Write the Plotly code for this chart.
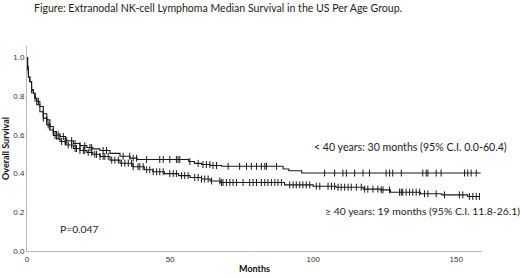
import numpy as np
import plotly.graph_objects as go

# ---- data ----
# Kaplan-Meier step points, age < 40
young_time = [0, 0.2, 0.5, 1.0, 1.6, 2.2, 2.8, 3.4, 4.5, 5.7, 6.9, 8.0, 9.2, 10.3, 11.5, 13.5,
              16.2, 18.5, 20.9, 23.0, 25.5, 29.0, 32.5, 36.0, 38.5, 56.5, 58.5, 61.0, 64.0, 68.0,
              89.5, 91.5, 96.0]
young_surv = [1.0, 0.94, 0.90, 0.876, 0.833, 0.816, 0.79, 0.773, 0.747, 0.71, 0.678, 0.644, 0.618,
              0.60, 0.592, 0.57, 0.556, 0.545, 0.535, 0.528, 0.52, 0.505, 0.49, 0.48, 0.473, 0.463,
              0.453, 0.447, 0.442, 0.438, 0.424, 0.415, 0.403]
young_censor = [0.45, 1.6, 2.8, 4.0, 5.7, 6.9, 8.0, 9.2, 10.9, 11.5, 12.7, 13.9, 15.6, 16.8, 18.5,
                20.2, 22.0, 22.6, 26.6, 27.8, 33.6, 35.9, 37.1, 38.3, 41.8, 46.4, 47.6, 49.9, 52.2,
                52.8, 53.4, 56.9, 59.8, 61.5, 62.7, 63.9, 65.0, 66.2, 70.3, 74.3, 76.7, 78.4, 80.2,
                81.9, 83.1, 83.7, 87.2, 104.0, 107.5, 110.4, 111.6, 114.5, 117.4, 119.7, 125.5,
                126.7, 127.8, 130.8, 138.3, 139.5, 140.1, 143.0, 144.7, 152.9, 154.0, 155.2, 157.0]
young_end = 158.5

# Kaplan-Meier step points, age >= 40
old_time = [0, 0.2, 0.5, 1.0, 1.6, 2.2, 2.8, 3.4, 4.5, 5.7, 6.9, 8.0, 9.2, 10.3, 11.5, 13.5,
            16.2, 18.5, 20.9, 23.0, 25.5, 29.0, 32.5, 37.0, 41.0, 44.0, 48.0, 53.0, 57.0, 61.0,
            64.0, 67.5, 90.0, 100.0, 108.0, 117.5, 123.5, 127.0, 137.5, 145.0, 154.0]
old_surv = [1.0, 0.94, 0.90, 0.876, 0.833, 0.816, 0.79, 0.756, 0.72, 0.687, 0.652, 0.626, 0.597,
            0.58, 0.566, 0.548, 0.53, 0.52, 0.51, 0.50, 0.489, 0.47, 0.454, 0.436, 0.42, 0.41,
            0.40, 0.39, 0.38, 0.372, 0.362, 0.354, 0.342, 0.335, 0.33, 0.32, 0.316, 0.304, 0.296,
            0.29, 0.282]
old_censor = [5.7, 7.4, 9.8, 12.1, 13.3, 14.4, 15.6, 16.8, 17.3, 18.5, 19.7, 20.2, 21.4, 22.6,
              23.7, 24.3, 25.5, 26.6, 27.2, 28.4, 29.6, 30.7, 31.9, 33.0, 34.2, 35.4, 36.5, 37.1,
              38.8, 39.4, 40.6, 41.8, 42.9, 44.1, 45.3, 46.4, 47.6, 49.9, 51.1, 52.2, 54.0, 55.1,
              56.3, 58.6, 59.8, 61.0, 62.1, 63.3, 64.5, 67.4, 68.0, 68.5, 69.7, 70.9, 72.0, 73.2,
              75.5, 77.8, 79.0, 80.2, 81.9, 83.1, 84.2, 85.4, 86.6, 87.7, 88.9, 91.8, 93.0, 94.1,
              95.3, 96.4, 97.6, 98.8, 101.1, 102.3, 105.2, 106.4, 107.5, 108.7, 109.8, 111.0,
              112.2, 113.3, 115.1, 116.8, 118.0, 119.1, 120.9, 122.6, 123.8, 124.4, 126.7, 130.2,
              130.8, 131.3, 132.5, 133.7, 134.8, 136.0, 137.2, 138.9, 140.1, 143.0, 145.9, 151.1,
              152.3, 154.6, 155.8, 157.0, 158.1]
old_end = 158.3

title_text = "Figure: Extranodal NK-cell Lymphoma Median Survival in the US Per Age Group."
label_young = "< 40 years: 30 months (95% C.I. 0.0-60.4)"
label_old = "\u2265 40 years: 19 months (95% C.I. 11.8-26.1)"
p_text = "P=0.047"
x_ticks = [0, 50, 100, 150]
y_ticks = [0.0, 0.2, 0.4, 0.6, 0.8, 1.0]


def step_value(times, surv, t):
    idx = np.searchsorted(np.asarray(times), np.asarray(t), side="right") - 1
    return np.asarray(surv)[idx]


fig = go.Figure()
for times, surv, cens, end in [(young_time, young_surv, young_censor, young_end),
                               (old_time, old_surv, old_censor, old_end)]:
    fig.add_trace(go.Scatter(x=list(times) + [end], y=list(surv) + [surv[-1]],
                             mode="lines", line=dict(color="#1a1a1a", width=1.1, shape="hv"),
                             showlegend=False, hoverinfo="skip"))
    fig.add_trace(go.Scatter(x=cens, y=step_value(times, surv, cens), mode="markers",
                             marker=dict(symbol="line-ns", size=5,
                                         line=dict(color="#1a1a1a", width=1)),
                             showlegend=False, hoverinfo="skip"))

font_main = "Lato, Liberation Sans, sans-serif"
L, R, T, B = 27, 38, 46, 27
PW, PH = 520 - L - R, 278 - T - B

fig.add_annotation(x=(32 - L) / PW, y=(278 - B - 8) / PH, xref="paper", yref="paper",
                   text=title_text, showarrow=False, xanchor="left", yanchor="middle",
                   font=dict(family=font_main, size=10.55, color="#222"))
fig.add_annotation(x=99.5, y=0.537, xref="x", yref="y", text=label_young, showarrow=False,
                   xanchor="left", yanchor="middle", font=dict(family=font_main, size=10.6, color="#222"))
fig.add_annotation(x=103.3, y=0.207, xref="x", yref="y", text=label_old, showarrow=False,
                   xanchor="left", yanchor="middle", font=dict(family=font_main, size=10.4, color="#222"))
fig.add_annotation(x=10.8, y=0.114, xref="x", yref="y", text=p_text, showarrow=False,
                   xanchor="left", yanchor="middle", font=dict(family=font_main, size=10.3, color="#222"))

fig.update_layout(
    width=520, height=278,
    margin=dict(l=L, r=R, t=T, b=B, pad=0, autoexpand=False),
    paper_bgcolor="white", plot_bgcolor="white",
    xaxis=dict(range=[0, 159], tickvals=x_ticks, ticks="", showgrid=False, zeroline=False,
               showline=True, linecolor="#b8b8b8", linewidth=1, automargin=False,
               tickfont=dict(family="Liberation Sans, sans-serif", size=8, color="#333"),
               title=dict(text="<b>Months</b>", standoff=3,
                          font=dict(family=font_main, size=9, color="#111"))),
    yaxis=dict(range=[0, 1.06], tickvals=y_ticks, tickformat=".1f", ticks="", showgrid=False,
               zeroline=False, showline=True, linecolor="#b8b8b8", linewidth=1, automargin=False,
               tickfont=dict(family="Liberation Sans, sans-serif", size=8, color="#333"),
               title=dict(text="<b>Overall Survival</b>", standoff=3,
                          font=dict(family=font_main, size=9, color="#111"))),
)

fig.write_html("out.html", config={"displayModeBar": False},
               post_script="document.body.style.margin='0px';")
